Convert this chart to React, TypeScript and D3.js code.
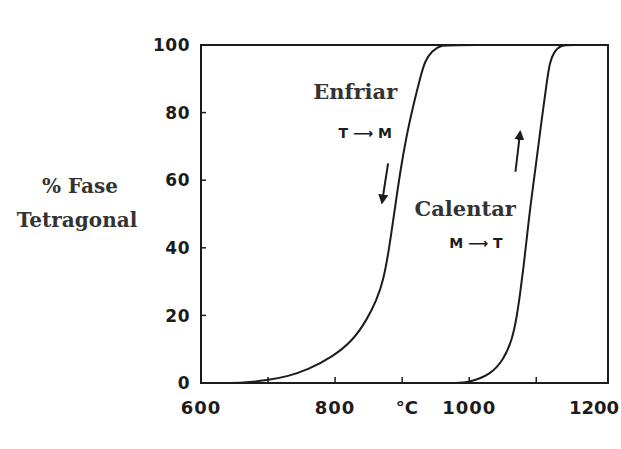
import * as d3 from 'd3';

// Enfriar (cooling) curve, T -> M
const coolTemp = [600, 640, 660, 700, 730, 758, 797, 827, 847, 862, 872, 880, 888, 897, 907, 917, 927, 934, 944, 958, 975, 1207];
const coolPct = [0, 0, 0, 0.8, 2, 3.8, 7.8, 12.7, 18.6, 24.5, 30.4, 39, 50, 62.5, 73.7, 82.5, 90.4, 95.3, 98.2, 100, 100, 100];

// Calentar (heating) curve, M -> T
const heatTemp = [940, 970, 985, 1001, 1031, 1051, 1064, 1071, 1076, 1081, 1086, 1091, 1101, 1108.5, 1116, 1120, 1126, 1136, 1150, 1207];
const heatPct = [0, 0, 0, 0.3, 2.4, 6.8, 12.7, 19.6, 26.5, 34.3, 43, 52, 66.8, 78.6, 89.4, 94.8, 97.8, 100, 100, 100];

const xTickMarks = [700, 800, 900, 1000, 1100];
const xTickLabels = [600, 800, 1000, 1200];
const yTicks = [0, 20, 40, 60, 80, 100];

const W = 621;
const H = 449;

const App = () => {
  const x = d3.scaleLinear().domain([600, 1207]).range([201, 608]);
  const y = d3.scaleLinear().domain([0, 100]).range([383, 45]);

  const line = d3.line<[number, number]>()
    .x(d => x(d[0]))
    .y(d => y(d[1]))
    .curve(d3.curveBasis);

  const coolPath = line(coolTemp.map((t, i) => [t, coolPct[i]]));
  const heatPath = line(heatTemp.map((t, i) => [t, heatPct[i]]));

  const ink = '#1c1c1c';
  const sans = 'DejaVu Sans, sans-serif';
  const serif = 'DejaVu Serif, serif';
  const lastLabel = xTickLabels[xTickLabels.length - 1];

  return (
    <div style={{ position: 'absolute', left: 0, top: 0 }}>
      <svg width={W} height={H} style={{ display: 'block', background: '#fff' }}>
        <defs>
          <marker id="head" viewBox="0 0 10 10" refX="8" refY="5" markerWidth="5" markerHeight="5" orient="auto">
            <path d="M0,0 L10,5 L0,10 z" fill={ink} />
          </marker>
        </defs>

        {/* frame */}
        <rect x={x(600)} y={y(100)} width={x(1207) - x(600)} height={y(0) - y(100)}
          fill="none" stroke={ink} strokeWidth={2} />

        {/* y ticks */}
        {yTicks.map(v => (
          <g key={v}>
            <line x1={x(600)} x2={x(600) + 5} y1={y(v)} y2={y(v)} stroke={ink} strokeWidth={1.5} />
            <text x={190} y={y(v)} dy="0.36em" textAnchor="end" fontFamily={sans} fontWeight="bold"
              fontSize={17} letterSpacing={0.5} fill={ink}>{v}</text>
          </g>
        ))}

        {/* x ticks */}
        {xTickMarks.map(v => (
          <line key={v} x1={x(v)} x2={x(v)} y1={y(0)} y2={y(0) - 6} stroke={ink} strokeWidth={1.5} />
        ))}
        {xTickLabels.map(v => (
          <text key={v} x={v === lastLabel ? W - 2 : x(v)} y={408} dy="0.36em"
            textAnchor={v === lastLabel ? 'end' : 'middle'} fontFamily={sans} fontWeight="bold"
            fontSize={18} letterSpacing={v === lastLabel ? 0 : 1} fill={ink}>{v}</text>
        ))}
        <text x={x(907)} y={408} dy="0.36em" textAnchor="middle" fontFamily={sans} fontWeight="bold"
          fontSize={18} fill={ink}>°C</text>

        {/* y axis title */}
        <text x={80} y={186} dy="0.36em" textAnchor="middle" fontFamily={serif} fontWeight="bold"
          fontSize={20} fill="#333">% Fase</text>
        <text x={77} y={220} dy="0.36em" textAnchor="middle" fontFamily={serif} fontWeight="bold"
          fontSize={20} fill="#333">Tetragonal</text>

        {/* curves */}
        <path d={coolPath ?? ''} fill="none" stroke={ink} strokeWidth={2} />
        <path d={heatPath ?? ''} fill="none" stroke={ink} strokeWidth={2} />

        {/* annotations */}
        <text x={x(830)} y={y(84)} textAnchor="middle" fontFamily={serif} fontWeight="bold"
          fontSize={21} fill="#333">Enfriar</text>
        <text x={x(845)} y={y(74)} dy="0.36em" textAnchor="middle" fontFamily={sans} fontWeight="bold"
          fontSize={14} fill={ink}>T ⟶ M</text>
        <line x1={x(879)} y1={y(65)} x2={x(870)} y2={y(53.4)} stroke={ink} strokeWidth={2} markerEnd="url(#head)" />

        <text x={x(994)} y={y(49.5)} textAnchor="middle" fontFamily={serif} fontWeight="bold"
          fontSize={21} fill="#333">Calentar</text>
        <text x={x(1010)} y={y(41.3)} dy="0.36em" textAnchor="middle" fontFamily={sans} fontWeight="bold"
          fontSize={14} fill={ink}>M ⟶ T</text>
        <line x1={x(1069)} y1={y(62.5)} x2={x(1076)} y2={y(74.3)} stroke={ink} strokeWidth={2} markerEnd="url(#head)" />
      </svg>
    </div>
  );
};

export default App;
